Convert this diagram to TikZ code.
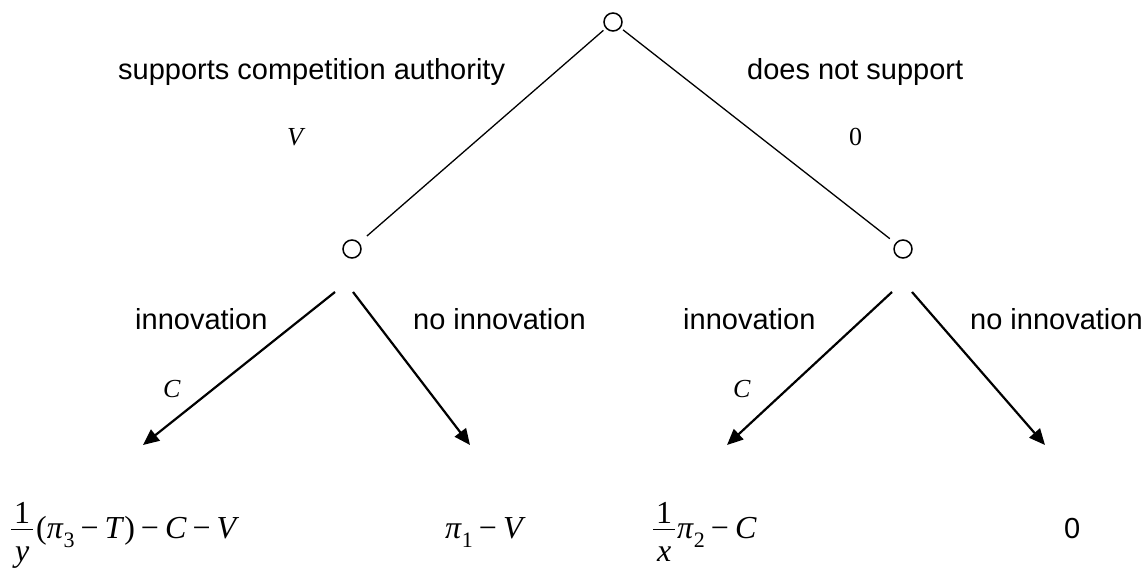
\documentclass[tikz,border=0pt]{standalone}
\usepackage{fontspec}
\setmainfont{Liberation Sans}
\newfontfamily\tnr{Liberation Serif}
\usetikzlibrary{arrows.meta}
\newcommand\mn{\kern6pt\textup{−}\kern6pt}
\newcommand\sbx[1]{\raisebox{-9pt}{\fontsize{22}{22}\selectfont\upshape #1}}
\newcommand\fr[2]{%
 \begingroup
 \setbox0\hbox{#1}\setbox2\hbox{#2}%
 \dimen0=\wd0 \ifdim\wd2>\dimen0 \dimen0=\wd2 \fi
 \advance\dimen0 by 6pt
 \rlap{\hbox to\dimen0{\hss\raise15pt\box0\hss}}%
 \rlap{\hbox to\dimen0{\hss\lower23pt\box2\hss}}%
 \raise8pt\hbox{\vrule width\dimen0 height 1.3pt depth 0pt}%
 \endgroup}
\tikzset{
 circ/.style={circle, draw, line width=1.5pt, minimum size=18pt, inner sep=0pt},
 thin line/.style={line width=1.3pt},
 arrowline/.style={line width=2.2pt, -{Triangle[length=16pt,width=14pt]}},
 lab/.style={font=\fontsize{29}{34}\selectfont, inner sep=0pt, anchor=base west},
 var/.style={font=\tnr\fontsize{26}{30}\selectfont, inner sep=0pt, anchor=base west},
 form/.style={font=\tnr\fontsize{32}{38}\selectfont, inner sep=0pt, anchor=base west}
}
\begin{document}
\begin{tikzpicture}[x=1pt,y=-1pt]
\useasboundingbox (0,0) rectangle (1147,570);
% decision nodes
\node[circ] (T) at (613,22) {};
\node[circ] (L) at (352,249) {};
\node[circ] (R) at (903,249) {};
% top branches
\draw[thin line, shorten <=3pt, shorten >=10pt] (T) -- (L);
\draw[thin line, shorten <=3pt, shorten >=7pt] (T) -- (R);
% arrow coordinates
\coordinate (Ls1) at (335,292);
\coordinate (Le1) at (143,445);
\coordinate (Ls2) at (353,292);
\coordinate (Le2) at (470,445);
\coordinate (Rs1) at (892,292);
\coordinate (Re1) at (727,445);
\coordinate (Rs2) at (912,292);
\coordinate (Re2) at (1045,445);
\draw[arrowline] (Ls1) -- (Le1);
\draw[arrowline] (Ls2) -- (Le2);
\draw[arrowline] (Rs1) -- (Re1);
\draw[arrowline] (Rs2) -- (Re2);
% branch labels
\node[lab] (sup) at (118,79) {supports competition authority};
\node[lab] (dns) at (747,79) {does not support};
\node[var] (v) at (287,145) {\itshape V};
\node[var] (z) at (849,145) {0};
\node[lab] (i1) at (135,329) {innovation};
\node[lab] (n1) at (413,329) {no innovation};
\node[lab] (i2) at (683,329) {innovation};
\node[lab] (n2) at (970,329) {no innovation};
\node[var] (c1) at (163,397) {\itshape C};
\node[var] (c2) at (733,397) {\itshape C};
% payoffs
\node[form] (p1) at (11,538) {\fr{1}{\itshape y}\kern3pt(\textit{π}\sbx{3}\mn\textit{T})\mn\textit{C}\mn\textit{V}};
\node[form] (p2) at (445,538) {\textit{π}\sbx{1}\mn\textit{V}};
\node[form] (p3) at (653,538) {\fr{1}{\itshape x}\kern2pt\textit{π}\sbx{2}\mn\textit{C}};
\node[lab] (p4) at (1064,538) {0};
\end{tikzpicture}
\end{document}
